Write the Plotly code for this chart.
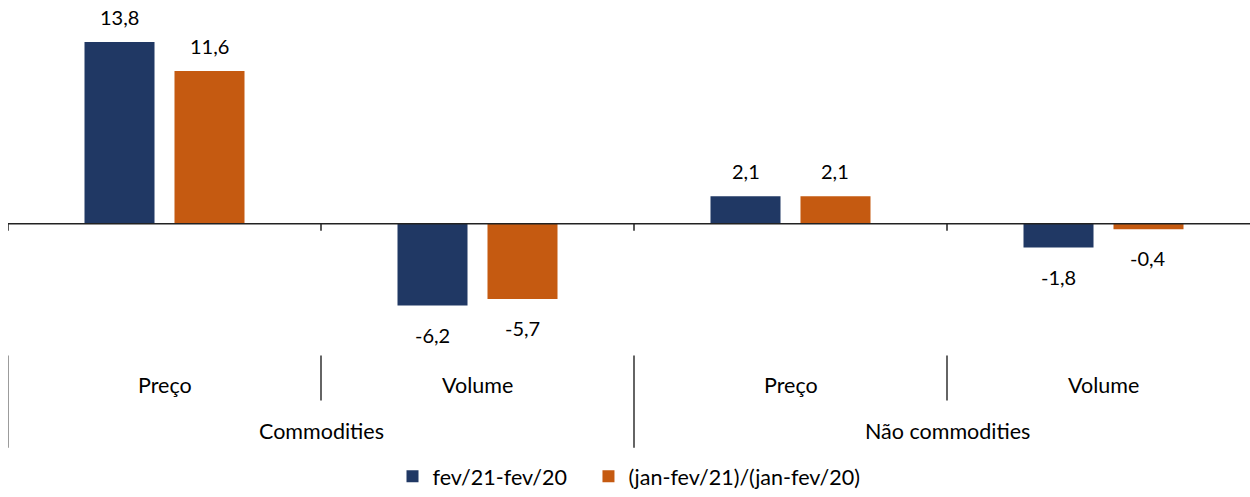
import plotly.graph_objects as go

groups = ["Commodities", "Não commodities"]
subcats = ["Preço", "Volume", "Preço", "Volume"]
series_names = ["fev/21-fev/20", "(jan-fev/21)/(jan-fev/20)"]
s1 = [13.8, -6.2, 2.1, -1.8]
s2 = [11.6, -5.7, 2.1, -0.4]
colors = ["#203864", "#C55A11"]

W, H = 1250, 497
L = 8
FONT = "Lato"
FS = 21.5
FSN = 20
PXU = 13.42          # pixels per unit
ZERO_PX = 228        # pixel row of zero
CAT_PX = 313         # pixels per category

def py(p):  # pixel row -> paper y
    return 1 - p / H

x = list(range(len(subcats)))
bargap, groupgap = 0.425, 0.222

fig = go.Figure()
pad = ["\u00a0\u00a0\u00a0", ""]
for name, vals, col, pd_ in zip(series_names, [s1, s2], colors, pad):
    fig.add_bar(x=x, y=vals, name=name + pd_, marker_color=col, marker_line_width=0)

ann = []
off = (1 - bargap) / 4
for k, vals in enumerate([s1, s2]):
    sgn = -1 if k == 0 else 1
    for i, v in enumerate(vals):
        ann.append(dict(x=i + sgn * off, y=v, xref="x", yref="y",
                        text=f"{v:.1f}".replace(".", ","), showarrow=False,
                        yanchor="middle", yshift=25 if v >= 0 else -29,
                        font=dict(family=FONT, size=FSN, color="#000")))

for i, s in enumerate(subcats):
    ann.append(dict(x=i, y=py(392), xref="x", yref="paper", text=s, showarrow=False,
                    yanchor="middle", font=dict(family=FONT, size=FS, color="#000")))
for g, gname in enumerate(groups):
    ann.append(dict(x=2 * g + 0.5, y=py(439), xref="x", yref="paper", text=gname,
                    showarrow=False, yanchor="middle",
                    font=dict(family=FONT, size=FS, color="#000")))

shapes = []
shapes.append(dict(type="line", xref="paper", yref="y", x0=0, x1=1, y0=0, y1=0,
                   line=dict(color="#222", width=1.5)))
for b in [-0.5, 0.5, 1.5, 2.5]:
    shapes.append(dict(type="line", xref="x", yref="paper", x0=b, x1=b,
                       y0=py(ZERO_PX), y1=py(ZERO_PX + 7),
                       line=dict(color="#222", width=1.5)))
for b in [-0.5, 0.5, 1.5, 2.5]:
    long_ = (b + 0.5) % 2 == 0
    shapes.append(dict(type="line", xref="x", yref="paper", x0=b, x1=b,
                       y0=py(362), y1=py(456 if long_ else 408),
                       line=dict(color="#666" if b == -0.5 else "#111", width=1.3)))

fig.update_layout(
    width=W, height=H,
    margin=dict(l=L, r=0, t=0, b=0),
    paper_bgcolor="white", plot_bgcolor="white",
    barmode="group", bargap=bargap, bargroupgap=groupgap,
    xaxis=dict(range=[-0.5, -0.5 + (W - L) / CAT_PX], visible=False, fixedrange=True),
    yaxis=dict(range=[-(H - ZERO_PX) / PXU, ZERO_PX / PXU], visible=False, fixedrange=True),
    showlegend=True,
    legend=dict(orientation="h", x=0.5, xanchor="center", y=py(485), yanchor="middle",
                font=dict(family=FONT, size=FS, color="#000"), bgcolor="rgba(0,0,0,0)"),
    annotations=ann, shapes=shapes,
    font=dict(family=FONT, size=FS),
)

fig.write_html(
    "out.html",
    config={"displayModeBar": False},
    post_script="document.body.style.margin='0';document.body.style.overflow='hidden';",
)
